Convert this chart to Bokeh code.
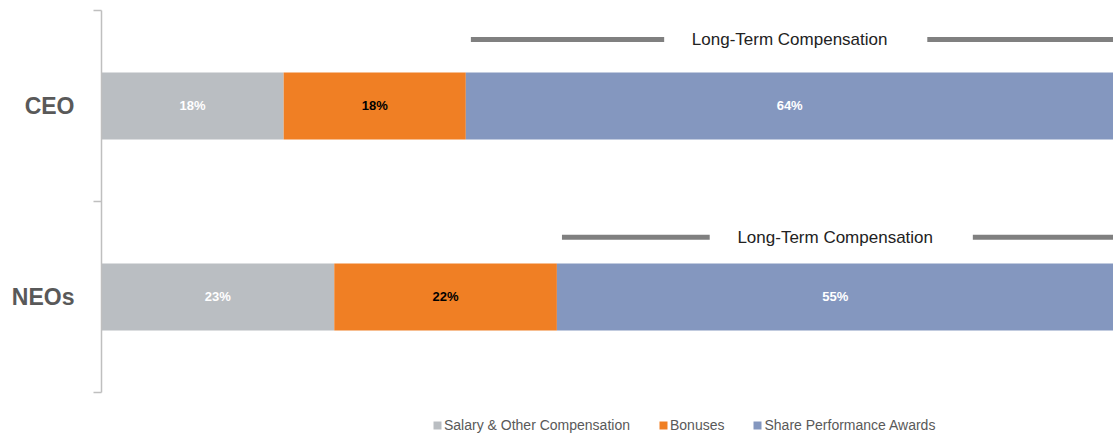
from bokeh.plotting import figure
from bokeh.models import (ColumnDataSource, Range1d, FixedTicker, Legend, LegendItem)
from bokeh.core.properties import value
from bokeh.embed import file_html
from bokeh.resources import INLINE

# Pay-mix data (percent of total target compensation)
groups = ["CEO", "NEOs"]
salary = [18, 23]
bonuses = [18, 22]
share_awards = [64, 55]
series_names = ["Salary & Other Compensation", "Bonuses", "Share Performance Awards"]
bracket_text = "Long-Term Compensation"

colors = ["#BABEC2", "#F07F24", "#8497BF"]
label_colors = ["#FFFFFF", "#000000", "#FFFFFF"]
FONT = "Liberation Sans"

# layout: height of each bracket above its bar (in band units)
bracket_lift = [0.173, 0.137]

n = len(groups)
ypos = [n - 0.5 - i for i in range(n)]  # first group at the top

p = figure(width=1113, height=433, output_backend="svg", toolbar_location=None,
           x_range=Range1d(0, 100), y_range=Range1d(-0.215, n),
           min_border_left=101, min_border_right=0, min_border_top=10,
           min_border_bottom=0)
p.outline_line_color = None
p.xgrid.visible = False
p.ygrid.visible = False
p.xaxis.visible = False
p.background_fill_color = "white"
p.border_fill_color = "white"

src = ColumnDataSource(dict(y=ypos, salary=salary, bonuses=bonuses, share=share_awards))
keys = ["salary", "bonuses", "share"]
bar_h = 0.35
renderers = p.hbar_stack(keys, y="y", height=bar_h, color=colors, source=src,
                         line_color=None)

# value labels centred in each segment
for i in range(n):
    vals = [salary[i], bonuses[i], share_awards[i]]
    left = 0
    for k, v in enumerate(vals):
        p.text(x=[left + v / 2], y=[ypos[i]], text=[f"{v}%"],
               text_align="center", text_baseline="middle",
               text_font=value(FONT), text_font_style="bold",
               text_font_size="13px", text_color=label_colors[k])
        left += v

# "Long-Term Compensation" bracket over the share-award segment
gap_left, gap_right = 12.4, 13.6
for i in range(n):
    start = salary[i] + bonuses[i]
    end = start + share_awards[i]
    mid = (start + end) / 2
    yb = ypos[i] + bar_h / 2 + bracket_lift[i]
    p.segment(x0=[start + 0.5, mid + gap_right], x1=[mid - gap_left, end],
              y0=[yb, yb], y1=[yb, yb], line_color="#808080", line_width=5)
    p.text(x=[mid], y=[yb], text=[bracket_text], text_align="center",
           text_baseline="middle", text_font=value(FONT),
           text_font_size="17px", text_color="#222222")

# bracket-style category axis
ax = p.yaxis[0]
ax.ticker = FixedTicker(ticks=ypos, minor_ticks=list(range(n + 1)))
ax.major_label_overrides = {y: g for y, g in zip(ypos, groups)}
ax.bounds = (0, n)
ax.axis_line_color = "#BFBFBF"
ax.axis_line_width = 1.5
ax.major_tick_line_color = None
ax.major_tick_out = 0
ax.major_tick_in = 0
ax.minor_tick_line_color = "#BFBFBF"
ax.minor_tick_line_width = 1.5
ax.minor_tick_out = 8
ax.minor_tick_in = 0
ax.major_label_standoff = 19
ax.major_label_text_font = FONT
ax.major_label_text_font_style = "bold"
ax.major_label_text_font_size = "23px"
ax.major_label_text_color = "#595959"

legend = Legend(items=[LegendItem(label=nm, renderers=[r]) for nm, r in zip(series_names, renderers)],
                orientation="horizontal", location=(331, 0),
                glyph_width=10, glyph_height=10, label_height=14,
                label_standoff=2, spacing=28, padding=0, margin=0,
                label_text_font=FONT, label_text_font_size="14px",
                label_text_color="#595959", background_fill_alpha=0,
                border_line_color=None)
p.add_layout(legend)

open("out.html", "w").write(file_html(p, INLINE))
